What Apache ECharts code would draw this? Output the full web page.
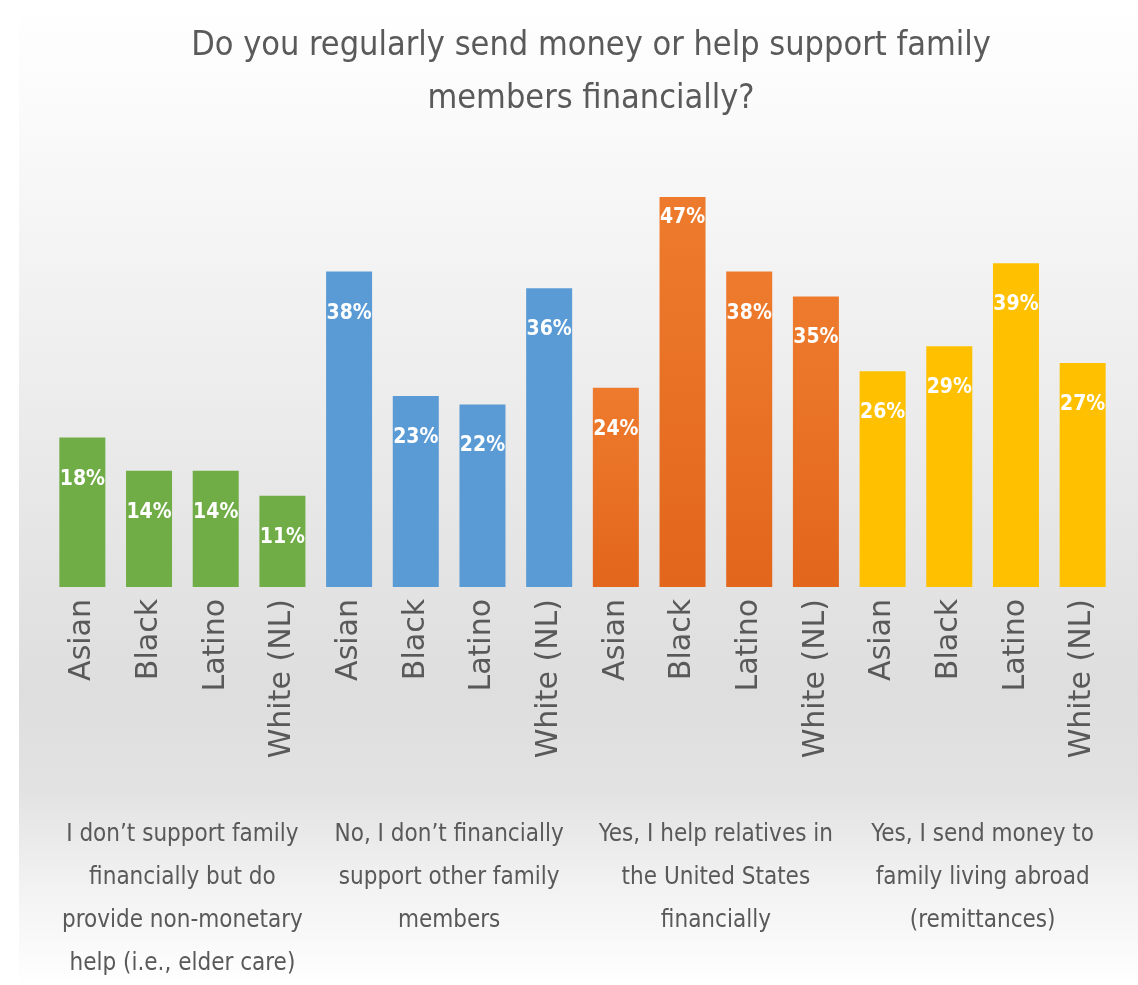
<!DOCTYPE html>
<html>
<head>
<meta charset="utf-8">
<title>Family financial support</title>
<script src="https://cdn.jsdelivr.net/npm/echarts@6/dist/echarts.min.js"></script>
<style>
  html, body { margin: 0; padding: 0; background: #ffffff; }
  #chart { width: 1138px; height: 985px; }
</style>
</head>
<body>
<div id="chart"></div>
<script>
// Survey answers (groups) and respondent categories within each group
const groupLabels = [
  "I don\u2019t support family\nfinancially but do\nprovide non-monetary\nhelp (i.e., elder care)",
  "No, I don\u2019t financially\nsupport other family\nmembers",
  "Yes, I help relatives in\nthe United States\nfinancially",
  "Yes, I send money to\nfamily living abroad\n(remittances)"
];
const raceLabels = ["Asian", "Black", "Latino", "White (NL)"];

// Share of respondents (%) per answer, ordered as raceLabels
const nonMonetaryHelp = [18, 14, 14, 11];
const noSupport = [38, 23, 22, 36];
const helpRelativesUS = [24, 47, 38, 35];
const remittances = [26, 29, 39, 27];

const groupValues = [nonMonetaryHelp, noSupport, helpRelativesUS, remittances];

// One colour per answer group
const groupColors = [
  "#70ad47",
  "#5b9bd5",
  { type: "linear", x: 0, y: 0, x2: 0, y2: 1,
    colorStops: [{ offset: 0, color: "#ee7b2d" }, { offset: 1, color: "#e2661b" }] },
  "#ffc000"
];

const categories = [];
const barData = [];
let maxValue = 0;
groupValues.forEach(vals => vals.forEach(v => { if (v > maxValue) maxValue = v; }));
groupValues.forEach((vals, g) => {
  vals.forEach((v, i) => {
    categories.push(raceLabels[i]);
    const item = { value: v, itemStyle: { color: groupColors[g] } };
    // the tallest bar keeps its label closer to the top edge
    if (v === maxValue) item.label = { distance: 10 };
    barData.push(item);
  });
});

const chart = echarts.init(document.getElementById("chart"), null, { renderer: "canvas" });

chart.setOption({
  backgroundColor: "transparent",
  animation: false,
  graphic: [{
    type: "rect",
    z: -100,
    silent: true,
    shape: { x: 19, y: 0, width: 1119, height: 985 },
    style: {
      fill: {
        type: "linear", x: 0, y: 0, x2: 0, y2: 1,
        colorStops: [
          { offset: 0, color: "#ffffff" },
          { offset: 0.12, color: "#fafafa" },
          { offset: 0.35, color: "#efefef" },
          { offset: 0.55, color: "#e5e5e5" },
          { offset: 0.7, color: "#dedede" },
          { offset: 0.8, color: "#e2e2e2" },
          { offset: 0.9, color: "#f2f2f2" },
          { offset: 1, color: "#ffffff" }
        ]
      }
    }
  }],
  title: {
    text: "Do you regularly send money or help support family\nmembers financially?",
    left: 586,
    textAlign: "center",
    top: 15,
    textStyle: {
      fontFamily: "'Liberation Sans Narrow', 'DejaVu Sans Condensed', sans-serif",
      fontWeight: "normal",
      fontSize: 34,
      lineHeight: 53,
      color: "#5a5a5a"
    }
  },
  grid: { left: 49, right: 22, top: 172, bottom: 398, containLabel: false },
  xAxis: [
    {
      type: "category",
      data: categories,
      axisLine: { show: false },
      axisTick: { show: false },
      axisLabel: {
        rotate: 90,
        interval: 0,
        margin: 12,
        fontFamily: "'DejaVu Sans', sans-serif",
        fontSize: 30,
        color: "#595959"
      }
    },
    {
      type: "category",
      data: groupLabels,
      position: "bottom",
      offset: 226,
      axisLine: { show: false },
      axisTick: { show: false },
      axisLabel: {
        interval: 0,
        margin: 0,
        fontFamily: "'Liberation Sans Narrow', 'DejaVu Sans Condensed', sans-serif",
        fontSize: 24,
        lineHeight: 43,
        color: "#595959",
        align: "center"
      }
    }
  ],
  yAxis: {
    type: "value",
    min: 0,
    max: 50,
    show: false,
    splitLine: { show: false }
  },
  series: [{
    type: "bar",
    data: barData,
    barCategoryGap: "31%",
    label: {
      show: true,
      position: "insideTop",
      distance: 31,
      formatter: "{c}%",
      color: "#ffffff",
      fontFamily: "'DejaVu Sans Condensed', 'DejaVu Sans', sans-serif",
      fontWeight: "bold",
      fontSize: 21
    }
  }]
});
</script>
</body>
</html>
